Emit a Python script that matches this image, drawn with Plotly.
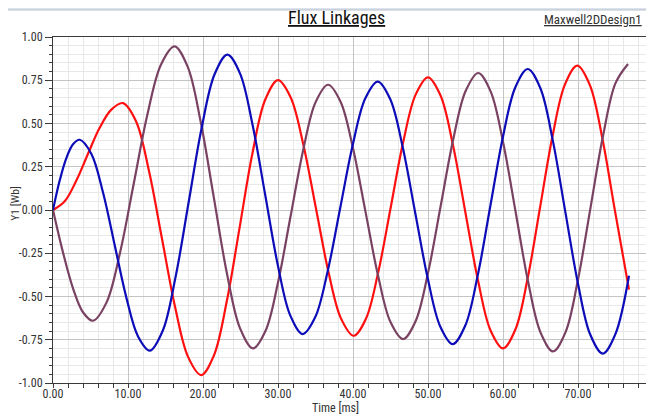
import plotly.graph_objects as go

# ---- data ----
red_t = [0, 1.56, 3.11, 4.67, 6.22, 7.78, 9.33,
         11.07, 12.80, 14.54, 16.28, 18.01, 19.75,
         21.46, 23.17, 24.88, 26.58, 28.29, 30.0,
         31.68, 33.36, 35.05, 36.73, 38.41, 40.09,
         41.74, 43.39, 45.05, 46.70, 48.35, 50.0,
         51.67, 53.33, 55.0, 56.67, 58.33, 60.0,
         61.65, 63.30, 64.95, 66.60, 68.25, 69.9,
         71.57, 73.23, 74.9, 76.8]
red_v = [0.0, 0.05, 0.17, 0.325, 0.475, 0.58, 0.618,
         0.513, 0.225, -0.168, -0.561, -0.849, -0.954,
         -0.840, -0.528, -0.102, 0.325, 0.637, 0.751,
         0.652, 0.382, 0.012, -0.358, -0.628, -0.727,
         -0.627, -0.354, 0.02, 0.394, 0.667, 0.767,
         0.662, 0.375, -0.017, -0.408, -0.695, -0.80,
         -0.691, -0.392, 0.017, 0.426, 0.725, 0.834,
         0.723, 0.418, 0.002, -0.46]

blue_t = [0, 0.89, 1.78, 2.67, 3.56,
          5.12, 6.67, 8.23, 9.79, 11.34, 12.9,
          14.63, 16.35, 18.08, 19.80, 21.53, 23.25,
          24.93, 26.60, 28.28, 29.95, 31.63, 33.3,
          34.97, 36.63, 38.3, 39.97, 41.63, 43.3,
          44.97, 46.63, 48.3, 49.97, 51.63, 53.3,
          54.97, 56.63, 58.3, 59.97, 61.63, 63.3,
          64.97, 66.63, 68.3, 69.97, 71.63, 73.3,
          74.97, 76.8]
blue_v = [0.0, 0.17, 0.30, 0.38, 0.406,
          0.324, 0.101, -0.204, -0.508, -0.731, -0.813,
          -0.698, -0.385, 0.043, 0.470, 0.783, 0.898,
          0.790, 0.494, 0.091, -0.313, -0.609, -0.717,
          -0.619, -0.352, 0.013, 0.377, 0.644, 0.742,
          0.640, 0.363, -0.017, -0.396, -0.673, -0.775,
          -0.668, -0.378, 0.02, 0.418, 0.708, 0.815,
          0.705, 0.404, -0.008, -0.419, -0.720, -0.83,
          -0.719, -0.38]

purple_t = [0, 1.33, 2.67, 4.0, 5.33,
            7.14, 8.95, 10.77, 12.58, 14.39, 16.2,
            17.95, 19.69, 21.44, 23.18, 24.93, 26.67,
            28.34, 30.0, 31.67, 33.34, 35.0, 36.67,
            38.34, 40.0, 41.67, 43.34, 45.0, 46.67,
            48.34, 50.01, 51.69, 53.36, 55.03, 56.7,
            58.36, 60.02, 61.69, 63.35, 65.01, 66.67,
            68.34, 70.0, 71.67, 73.34, 75.0, 76.67]
purple_v = [0.0, -0.245, -0.453, -0.591, -0.64,
            -0.534, -0.244, 0.153, 0.550, 0.840, 0.946,
            0.829, 0.510, 0.073, -0.364, -0.683, -0.80,
            -0.698, -0.419, -0.038, 0.343, 0.622, 0.724,
            0.626, 0.357, -0.011, -0.379, -0.648, -0.746,
            -0.643, -0.362, 0.023, 0.408, 0.689, 0.792,
            0.684, 0.390, -0.013, -0.415, -0.709, -0.817,
            -0.706, -0.402, 0.014, 0.429, 0.733, 0.844]

x_tick_vals = [0, 10, 20, 30, 40, 50, 60, 70, 80]
x_tick_text = ["0.00", "10.00", "20.00", "30.00", "40.00", "50.00", "60.00", "70.00", "80.00"]
y_tick_vals = [-1.0, -0.75, -0.5, -0.25, 0.0, 0.25, 0.5, 0.75, 1.0]
y_tick_text = ["-1.00", "-0.75", "-0.50", "-0.25", "0.00", "0.25", "0.50", "0.75", "1.00"]

FONT = "Liberation Sans Narrow, Arial Narrow, Roboto Condensed, Liberation Sans, Arial, sans-serif"

fig = go.Figure()
for t, v, c in [(red_t, red_v, "#FF1010"), (purple_t, purple_v, "#7A4262"), (blue_t, blue_v, "#0C0CB8")]:
    fig.add_trace(go.Scatter(x=t, y=v, mode="lines",
                             line=dict(color=c, width=2.2, shape="spline", smoothing=1.0),
                             showlegend=False, hoverinfo="skip"))

axis_common = dict(
    showline=True, linecolor="#3a3a3a", linewidth=1, mirror=True,
    ticks="outside", tickcolor="#3a3a3a", tickwidth=1,
    showgrid=True, gridcolor="#C4C4C4", gridwidth=1,
    zeroline=False,
    tickfont=dict(family=FONT, size=12, color="#333333"),
    tickmode="array",
    automargin=False,
)

fig.update_xaxes(**axis_common, range=[0, 80], tickvals=x_tick_vals, ticktext=x_tick_text,
                 ticklen=4, ticklabelstandoff=-4,
                 minor=dict(tickmode="linear", tick0=0, dtick=2, ticks="outside", ticklen=4,
                            tickcolor="#3a3a3a", showgrid=True, gridcolor="#E8E8E8", gridwidth=1))
fig.update_yaxes(**axis_common, range=[-1, 1], tickvals=y_tick_vals, ticktext=y_tick_text,
                 ticklen=7,
                 minor=dict(tickmode="linear", tick0=0, dtick=0.05, ticks="outside", ticklen=3,
                            tickcolor="#3a3a3a", showgrid=True, gridcolor="#E8E8E8", gridwidth=1))

# the page body adds an 8px offset, so the figure is 8px smaller and margins are shifted
fig.update_layout(
    width=646, height=408,
    margin=dict(l=45, r=1, t=29, b=33),
    paper_bgcolor="white", plot_bgcolor="white",
    shapes=[
        dict(type="rect", xref="paper", yref="paper", x0=-0.08, x1=1.01, y0=1.078, y1=1.084,
             fillcolor="#DCE3EC", line=dict(width=0), layer="below"),
        dict(type="line", xref="paper", yref="paper", x0=-0.08, x1=1.01, y0=1.078, y1=1.078,
             line=dict(color="#B4BFCC", width=1)),
    ],
    annotations=[
        dict(text="Flux Linkages", xref="paper", yref="paper", x=0.4717, y=1.055,
             xanchor="center", yanchor="middle", showarrow=False,
             font=dict(family=FONT, size=18, color="#111111", lineposition="under")),
        dict(text="Maxwell2DDesign1", xref="paper", yref="paper", x=0.985, y=1.052,
             xanchor="right", yanchor="middle", showarrow=False,
             font=dict(family=FONT, size=13, color="#333333", lineposition="under")),
        dict(text="Y1 [Wb]", xref="paper", yref="paper", x=-0.064, y=0.52,
             xanchor="center", yanchor="middle", showarrow=False, textangle=-90,
             font=dict(family=FONT, size=11.5, color="#333333")),
        dict(text="Time [ms]", xref="paper", yref="paper", x=0.47, y=-0.072,
             xanchor="center", yanchor="middle", showarrow=False,
             font=dict(family=FONT, size=12, color="#333333")),
    ],
)

fig.write_html("out.html")
